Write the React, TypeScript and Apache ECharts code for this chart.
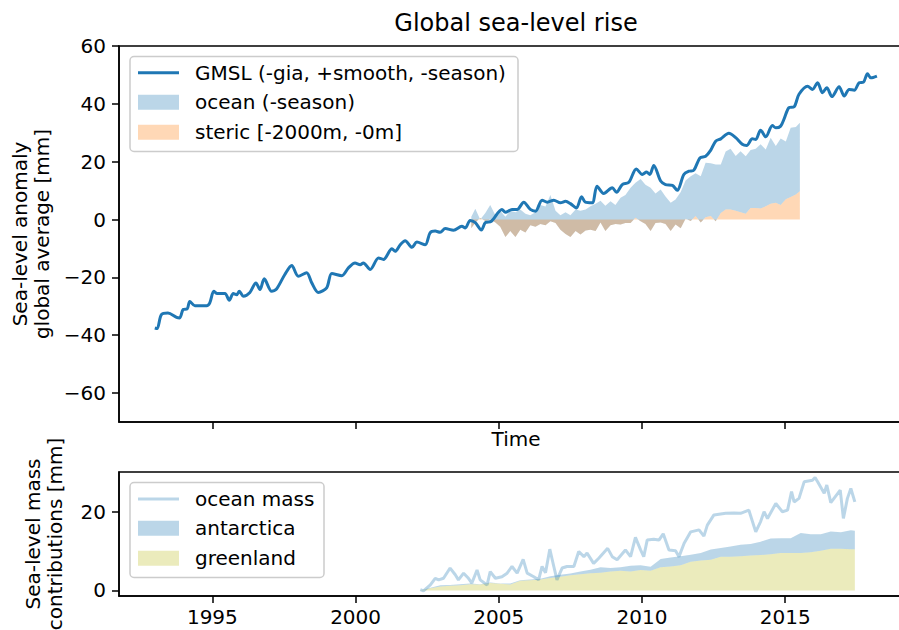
import React, { useEffect, useRef } from "react";
import * as echarts from "echarts";

// ---------- data ----------
const gmslYears = [
  1992.99, 1993.07, 1993.22, 1993.45, 1993.75, 1993.86, 1993.98, 1994.12, 1994.21, 1994.39,
  1994.8, 1994.91, 1995.05, 1995.17, 1995.44, 1995.59, 1995.73, 1995.85, 1995.94, 1996.08,
  1996.31, 1996.52, 1996.66, 1996.81, 1997.07, 1997.24, 1997.53, 1997.77, 1998.0, 1998.29,
  1998.47, 1998.7, 1998.99, 1999.17, 1999.52, 1999.75, 1999.98, 2000.16, 2000.27, 2000.51,
  2000.8, 2000.97, 2001.27, 2001.38, 2001.56, 2001.73, 2001.97, 2002.14, 2002.43, 2002.6,
  2002.78, 2002.95, 2003.13, 2003.42, 2003.71, 2003.83, 2004.0, 2004.18, 2004.39, 2004.53,
  2004.74, 2005.11, 2005.23, 2005.46, 2005.64, 2005.87, 2006.1, 2006.28, 2006.51, 2006.69,
  2006.92, 2007.15, 2007.33, 2007.5, 2007.71, 2007.89, 2008.02, 2008.26, 2008.43, 2008.66,
  2008.96, 2009.11, 2009.31, 2009.54, 2009.8, 2010.01, 2010.16, 2010.27, 2010.41, 2010.65,
  2010.82, 2011.06, 2011.23, 2011.46, 2011.64, 2011.81, 2012.02, 2012.22, 2012.4, 2012.57,
  2012.75, 2013.03, 2013.27, 2013.5, 2013.65, 2013.85, 2013.97, 2014.14, 2014.32, 2014.55,
  2014.67, 2014.84, 2014.96, 2015.13, 2015.31, 2015.48, 2015.78, 2015.95, 2016.13, 2016.3,
  2016.45, 2016.63, 2016.88, 2017.06, 2017.23, 2017.41, 2017.58, 2017.73, 2017.87, 2017.99,
  2018.2,
];
const gmslValues = [
  -37.5, -37.7, -32.9, -32.3, -33.8, -34.0, -31.1, -30.9, -28.3, -29.8,
  -29.8, -28.8, -24.8, -25.6, -25.6, -27.9, -25.6, -26.0, -24.8, -26.5,
  -25.2, -21.9, -24.2, -20.5, -24.8, -24.0, -19.0, -15.9, -19.6, -18.4,
  -21.9, -25.2, -23.6, -18.7, -19.4, -16.7, -15.0, -15.6, -15.0, -17.3,
  -13.3, -13.8, -10.1, -11.0, -8.7, -7.3, -9.6, -7.8, -8.7, -4.6,
  -4.0, -4.4, -3.1, -3.7, -2.3, -2.9, -0.3, -1.1, -3.6, -1.1,
  -0.6, 3.5, 2.5, 3.5, 3.5, 6.0, 3.5, 2.9, 6.7, 6.0,
  6.7, 5.8, 6.3, 5.5, 4.0, 7.9, 6.0, 5.8, 11.5, 9.0,
  11.0, 9.4, 12.1, 12.9, 17.5, 15.6, 16.4, 15.6, 18.7, 13.3,
  12.1, 11.8, 10.1, 15.6, 16.7, 17.1, 21.3, 21.9, 24.0, 27.1,
  27.9, 29.8, 28.3, 26.0, 25.6, 27.9, 27.7, 30.9, 28.6, 32.5,
  31.7, 32.3, 34.8, 38.7, 39.0, 43.3, 46.1, 45.0, 47.3, 43.8,
  45.6, 42.5, 45.9, 42.7, 45.0, 44.7, 47.3, 47.5, 50.4, 49.0,
  49.6,
];

// ocean and steric share the same time stamps
const oceanYears = [
  2004.04, 2004.18, 2004.35, 2004.53, 2004.7, 2004.88, 2005.05, 2005.23, 2005.4, 2005.58,
  2005.75, 2005.93, 2006.1, 2006.28, 2006.45, 2006.63, 2006.8, 2006.98, 2007.15, 2007.33,
  2007.5, 2007.68, 2007.85, 2008.03, 2008.2, 2008.38, 2008.55, 2008.72, 2008.9, 2009.07,
  2009.25, 2009.42, 2009.6, 2009.77, 2009.95, 2010.12, 2010.3, 2010.47, 2010.65, 2010.82,
  2011.0, 2011.17, 2011.35, 2011.52, 2011.7, 2011.87, 2012.05, 2012.22, 2012.4, 2012.57,
  2012.75, 2012.92, 2013.09, 2013.27, 2013.44, 2013.62, 2013.79, 2013.97, 2014.14, 2014.32,
  2014.49, 2014.67, 2014.84, 2015.02, 2015.19, 2015.37, 2015.51,
];
const oceanValues = [
  1.0, 3.7, 0.0, 2.3, 5.0, 1.5, 3.0, 1.0, 3.0, 2.5,
  3.5, 2.0, 1.5, 2.5, 5.0, 4.5, 8.5, 3.0, 1.5, 2.5,
  1.5, 3.5, 3.0, 3.5, 4.6, 5.5, 6.5, 4.8, 6.3, 5.0,
  7.5, 8.5, 11.0, 12.7, 14.0, 12.0, 11.0, 9.0, 10.4, 8.0,
  5.8, 6.9, 9.5, 13.5, 15.0, 16.0, 15.0, 19.6, 19.5, 19.0,
  19.0, 23.5, 24.5, 22.0, 23.6, 21.9, 24.0, 24.5, 26.0, 24.2,
  28.3, 25.4, 28.0, 27.0, 31.7, 32.0, 33.5,
];
const stericValues = [
  -3.0, -1.0, 0.5, -0.5, 0.0, -1.0, -2.5, -6.0, -4.0, -6.0,
  -3.5, -4.5, -2.0, -2.5, -1.5, -2.0, -0.6, -1.2, -3.5, -5.0,
  -6.0, -4.0, -5.2, -3.8, -3.5, -4.0, -1.0, -4.0, -2.0, -1.5,
  -1.7, -1.2, -1.2, 0.6, -0.6, -1.5, -4.0, -1.2, -1.0, -1.5,
  -4.0, -1.7, -3.0, 0.3, -0.5, 1.2, -1.0, 0.8, 1.2, -0.6,
  2.3, 3.5, 3.5, 3.0, 2.5, 2.0, 4.0, 4.0, 3.8, 4.6,
  5.5, 5.8, 5.0, 7.0, 7.8, 8.7, 9.8,
];

// greenland and antarctica share the same time stamps
const iceYears = [
  2002.26, 2002.61, 2002.96, 2003.3, 2003.65, 2004.0, 2004.35, 2004.7, 2005.05, 2005.4,
  2005.75, 2006.1, 2006.45, 2006.8, 2007.15, 2007.5, 2007.85, 2008.2, 2008.55, 2008.9,
  2009.25, 2009.6, 2009.95, 2010.3, 2010.65, 2011.0, 2011.35, 2011.7, 2012.05, 2012.4,
  2012.75, 2013.09, 2013.44, 2013.79, 2014.14, 2014.49, 2014.84, 2015.19, 2015.54, 2015.89,
  2016.24, 2016.59, 2016.94, 2017.29, 2017.43,
];
const greenlandValues = [
  0.0, 0.6, 1.0, 1.2, 1.3, 1.6, 1.5, 1.9, 1.7, 1.5,
  2.5, 2.6, 2.8, 3.2, 3.5, 3.9, 4.1, 4.4, 4.5, 4.8,
  5.0, 4.8, 5.2, 5.0, 5.9, 6.1, 6.4, 7.3, 7.6, 7.8,
  8.6, 8.6, 8.7, 8.9, 9.0, 9.2, 9.5, 9.5, 9.5, 9.7,
  10.1, 10.6, 10.6, 10.5, 10.5,
];
const antarcticaValues = [
  0.0, 0.1, 0.3, 0.2, 0.3, 0.2, 0.1, 0.1, 0.1, 0.3,
  0.1, 0.2, 0.2, 0.4, 0.5, 0.4, 0.7, 0.9, 1.4, 0.9,
  0.9, 1.5, 1.2, 1.0, 2.1, 2.3, 2.3, 1.8, 1.9, 2.6,
  2.2, 2.6, 2.9, 2.9, 3.4, 4.0, 3.8, 3.8, 5.1, 4.6,
  4.2, 4.4, 4.2, 4.8, 4.7,
];

const oceanMassYears = [
  2002.26, 2002.37, 2002.61, 2002.78, 2002.9, 2003.07, 2003.3, 2003.48, 2003.59, 2003.77,
  2003.94, 2004.06, 2004.24, 2004.35, 2004.59, 2004.7, 2004.88, 2005.11, 2005.29, 2005.46,
  2005.64, 2005.85, 2005.99, 2006.22, 2006.39, 2006.51, 2006.63, 2006.78, 2006.92, 2007.03,
  2007.21, 2007.38, 2007.62, 2007.79, 2007.97, 2008.08, 2008.31, 2008.49, 2008.8, 2008.96,
  2009.13, 2009.42, 2009.6, 2009.77, 2009.95, 2010.06, 2010.18, 2010.41, 2010.59, 2010.74,
  2010.94, 2011.17, 2011.29, 2011.47, 2011.7, 2011.99, 2012.16, 2012.28, 2012.51, 2012.92,
  2013.21, 2013.44, 2013.73, 2013.97, 2014.14, 2014.26, 2014.38, 2014.67, 2014.9, 2015.08,
  2015.22, 2015.31, 2015.48, 2015.66, 2015.95, 2016.04, 2016.13, 2016.36, 2016.45, 2016.59,
  2016.92, 2017.03, 2017.17, 2017.29, 2017.43,
];
const oceanMassValues = [
  0.2, -0.1, 1.4, 3.1, 2.7, 3.1, 5.7, 4.0, 2.7, 4.4,
  3.1, 1.9, 5.2, 2.7, 1.4, 4.8, 3.1, 3.5, 4.4, 6.1,
  4.4, 7.9, 4.4, 3.5, 2.7, 6.1, 4.5, 10.5, 6.1, 2.7,
  5.7, 6.1, 6.1, 9.9, 8.6, 9.5, 6.9, 8.2, 10.7, 8.6,
  7.8, 10.3, 8.6, 13.5, 10.3, 8.6, 12.8, 13.0, 12.8, 14.4,
  10.3, 10.1, 8.6, 12.0, 14.9, 15.4, 13.8, 16.6, 19.2, 19.6,
  19.7, 19.6, 20.4, 14.9, 17.5, 20.0, 18.3, 22.1, 20.0, 20.4,
  25.1, 22.5, 23.4, 27.6, 28.0, 28.7, 27.6, 24.7, 26.8, 22.3,
  25.5, 18.3, 23.4, 25.9, 22.5,
];

const xTicks = [1995, 2000, 2005, 2010, 2015];
const topYTicks = [-60, -40, -20, 0, 20, 40, 60];
const bottomYTicks = [0, 20];

const titleText = "Global sea-level rise";
const topLegendLabels = ["GMSL (-gia, +smooth, -season)", "ocean (-season)", "steric [-2000m, -0m]"];
const bottomLegendLabels = ["ocean mass", "antarctica", "greenland"];

// ---------- styles ----------
const FONT = "DejaVu Sans";
const BLUE = "#1f77b4";
const BLUE_A = "rgba(31,119,180,0.3)";
const ORANGE_A = "rgba(255,127,14,0.3)";
const OLIVE_A = "rgba(188,189,34,0.3)";

// filled band between two curves, drawn through the axes' own scales
function band(
  name: string,
  xs: number[],
  lower: number[],
  upper: number[],
  color: string,
  axisIndex: number,
  z: number
) {
  return {
    type: "custom",
    name,
    xAxisIndex: axisIndex,
    yAxisIndex: axisIndex,
    z,
    silent: true,
    data: xs.map((x, i) => [x, lower[i], upper[i]]),
    encode: { x: 0, y: [1, 2] },
    renderItem: (params: any, api: any) => {
      if (params.dataIndex !== 0) return null;
      const top = xs.map((x, i) => api.coord([x, upper[i]]));
      const bottom = xs.map((x, i) => api.coord([x, lower[i]])).reverse();
      return {
        type: "polygon",
        shape: { points: top.concat(bottom) },
        style: { fill: color, stroke: "none" },
      };
    },
  };
}

export default function App() {
  const ref = useRef<HTMLDivElement>(null);

  useEffect(() => {
    document.body.style.margin = "0";
    const chart = echarts.init(ref.current!, undefined, { renderer: "svg" });
    const zip = (xs: number[], ys: number[]) => xs.map((x, i) => [x, ys[i]]);
    const fmt = (v: number) => (v < 0 ? "\u2212" + Math.abs(v) : String(v));
    const axisLine = { show: true, onZero: false, lineStyle: { color: "#000", width: 1.5 } };
    const tickStyle = { color: "#000", width: 1.5 };
    const labelStyle = { fontSize: 20, fontFamily: FONT, color: "#000" };
    const xMin = 1991.74;
    const xMax = 2019.46;

    const zeros = oceanYears.map(() => 0);
    const iceZeros = iceYears.map(() => 0);
    const iceTop = greenlandValues.map((g, i) => g + antarcticaValues[i]);

    const txt = (x: number, y: number, text: string) => ({
      type: "text",
      x,
      y,
      z: 101,
      silent: true,
      style: { text, fontSize: 20, fontFamily: FONT, fill: "#000", verticalAlign: "middle", align: "left" },
    });

    const option: any = {
      animation: false,
      title: {
        text: titleText,
        left: 511,
        top: 6,
        textAlign: "center",
        textStyle: { fontSize: 24, fontWeight: "normal", fontFamily: FONT, color: "#000" },
      },
      grid: [
        {
          left: 119, top: 46, width: 794, height: 376, show: true,
          borderColor: "#000", borderWidth: 1.5, backgroundColor: "transparent",
          containLabel: false, outerBoundsMode: "none",
        },
        {
          left: 119, top: 472, width: 794, height: 124, show: true,
          borderColor: "#000", borderWidth: 1.5, backgroundColor: "transparent",
          containLabel: false, outerBoundsMode: "none",
        },
      ],
      xAxis: [
        {
          gridIndex: 0,
          type: "value",
          min: xMin,
          max: xMax,
          axisLine,
          axisTick: { show: true, customValues: xTicks, length: 7, lineStyle: tickStyle },
          axisLabel: { show: false },
          splitLine: { show: false },
          name: "Time",
          nameLocation: "middle",
          nameGap: 7,
          nameTextStyle: labelStyle,
        },
        {
          gridIndex: 1,
          type: "value",
          min: xMin,
          max: xMax,
          axisLine,
          axisTick: { show: true, customValues: xTicks, length: 7, lineStyle: tickStyle },
          axisLabel: { ...labelStyle, customValues: xTicks, formatter: (v: number) => String(v), margin: 11 },
          splitLine: { show: false },
        },
      ],
      yAxis: [
        {
          gridIndex: 0,
          type: "value",
          min: -70,
          max: 60,
          axisLine,
          axisTick: { show: true, customValues: topYTicks, length: 7, lineStyle: tickStyle },
          axisLabel: { ...labelStyle, customValues: topYTicks, formatter: fmt, margin: 13 },
          splitLine: { show: false },
          name: "Sea-level anomaly\nglobal average [mm]",
          nameLocation: "middle",
          nameRotate: 90,
          nameGap: 66,
          nameTextStyle: { ...labelStyle, lineHeight: 22 },
        },
        {
          gridIndex: 1,
          type: "value",
          min: -1.4,
          max: 30.1,
          axisLine,
          axisTick: { show: true, customValues: bottomYTicks, length: 7, lineStyle: tickStyle },
          axisLabel: { ...labelStyle, customValues: bottomYTicks, formatter: fmt, margin: 13 },
          splitLine: { show: false },
          name: "Sea-level mass\ncontributions [mm]",
          nameLocation: "middle",
          nameRotate: 90,
          nameGap: 53,
          nameTextStyle: { ...labelStyle, lineHeight: 22 },
        },
      ],
      series: [
        band(topLegendLabels[1], oceanYears, stericValues, oceanValues, BLUE_A, 0, 2),
        band(topLegendLabels[2], oceanYears, zeros, stericValues, ORANGE_A, 0, 3),
        {
          type: "line",
          name: topLegendLabels[0],
          xAxisIndex: 0,
          yAxisIndex: 0,
          data: zip(gmslYears, gmslValues),
          symbol: "none",
          smooth: 0.3,
          lineStyle: { color: BLUE, width: 3 },
          z: 5,
        },
        band(bottomLegendLabels[2], iceYears, iceZeros, greenlandValues, OLIVE_A, 1, 2),
        band(bottomLegendLabels[1], iceYears, greenlandValues, iceTop, BLUE_A, 1, 3),
        {
          type: "line",
          name: bottomLegendLabels[0],
          xAxisIndex: 1,
          yAxisIndex: 1,
          data: zip(oceanMassYears, oceanMassValues),
          symbol: "none",
          lineStyle: { color: BLUE_A, width: 3 },
          z: 4,
        },
      ],
      graphic: [
        // top legend
        {
          type: "rect",
          z: 100,
          silent: true,
          shape: { x: 130, y: 56.5, width: 388, height: 95, r: 4 },
          style: { fill: "rgba(255,255,255,0.8)", stroke: "#cccccc", lineWidth: 1.5 },
        },
        { type: "line", z: 101, silent: true, shape: { x1: 138, y1: 72.7, x2: 179, y2: 72.7 }, style: { stroke: BLUE, lineWidth: 3 } },
        { type: "rect", z: 101, silent: true, shape: { x: 138, y: 94.8, width: 41, height: 15 }, style: { fill: BLUE_A } },
        { type: "rect", z: 101, silent: true, shape: { x: 138, y: 124.8, width: 41, height: 15 }, style: { fill: ORANGE_A } },
        txt(195, 72.7, topLegendLabels[0]),
        txt(195, 102.3, topLegendLabels[1]),
        txt(195, 132.3, topLegendLabels[2]),
        // bottom legend
        {
          type: "rect",
          z: 100,
          silent: true,
          shape: { x: 130, y: 482.5, width: 194, height: 95, r: 4 },
          style: { fill: "rgba(255,255,255,0.8)", stroke: "#cccccc", lineWidth: 1.5 },
        },
        { type: "line", z: 101, silent: true, shape: { x1: 138, y1: 499, x2: 179, y2: 499 }, style: { stroke: BLUE_A, lineWidth: 3 } },
        { type: "rect", z: 101, silent: true, shape: { x: 138, y: 520.8, width: 41, height: 15 }, style: { fill: BLUE_A } },
        { type: "rect", z: 101, silent: true, shape: { x: 138, y: 550.8, width: 41, height: 15 }, style: { fill: OLIVE_A } },
        txt(195, 499, bottomLegendLabels[0]),
        txt(195, 528.3, bottomLegendLabels[1]),
        txt(195, 558.3, bottomLegendLabels[2]),
      ],
    };

    chart.setOption(option);
    return () => chart.dispose();
  }, []);

  return <div ref={ref} style={{ position: "absolute", left: 0, top: 0, width: 899, height: 630 }} />;
}
